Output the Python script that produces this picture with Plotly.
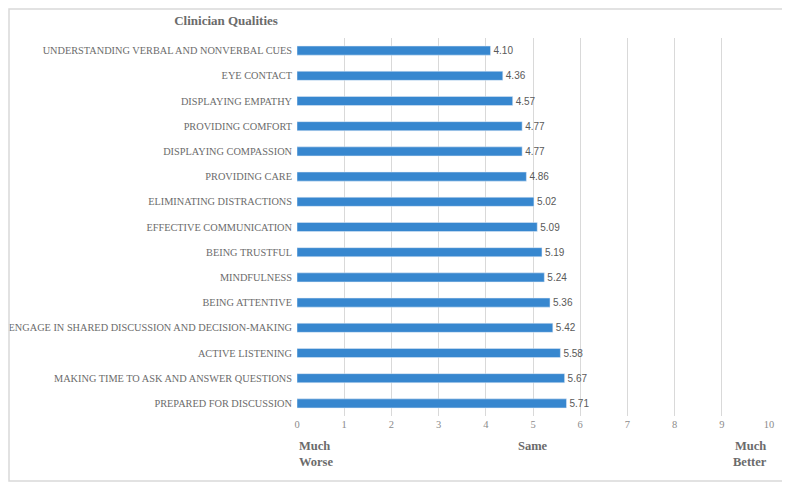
import plotly.graph_objects as go

qualities = [
    "UNDERSTANDING VERBAL AND NONVERBAL CUES",
    "EYE CONTACT",
    "DISPLAYING EMPATHY",
    "PROVIDING COMFORT",
    "DISPLAYING COMPASSION",
    "PROVIDING CARE",
    "ELIMINATING DISTRACTIONS",
    "EFFECTIVE COMMUNICATION",
    "BEING TRUSTFUL",
    "MINDFULNESS",
    "BEING ATTENTIVE",
    "ENGAGE IN SHARED DISCUSSION AND DECISION-MAKING",
    "ACTIVE LISTENING",
    "MAKING TIME TO ASK AND ANSWER QUESTIONS",
    "PREPARED FOR DISCUSSION",
]
scores = [4.10, 4.36, 4.57, 4.77, 4.77, 4.86, 5.02, 5.09, 5.19, 5.24, 5.36, 5.42, 5.58, 5.67, 5.71]
ticks = list(range(0, 11))

serif = "Liberation Serif, Times New Roman, serif"
gray = "#6b6b6b"

# page body has an 8px margin, so the figure is 8px smaller
W, H = 782, 476
L, T, PW, PH = 289, 30, 472, 378  # plot area in figure pixels

fig = go.Figure(go.Bar(
    x=scores, y=qualities, orientation="h",
    marker_color="#3787cf", width=0.36,
    text=[f"{v:.2f}" for v in scores], textposition="outside",
    constraintext="none",
    textfont=dict(family="Liberation Sans, Arial", size=10, color="#595959"),
    cliponaxis=False,
))

fig.update_layout(
    width=W, height=H,
    margin=dict(l=L, r=W - L - PW, t=T, b=H - T - PH, autoexpand=False),
    paper_bgcolor="white", plot_bgcolor="white",
    showlegend=False,
    title=dict(text="<b>Clinician Qualities</b>", x=218 / W, xanchor="center",
               y=1 - 12 / H, yanchor="middle",
               font=dict(family=serif, size=13, color=gray)),
)
fig.update_xaxes(range=[0, 10], tickvals=ticks, showgrid=True, gridcolor="#d9d9d9",
                 zeroline=False, showline=False, ticks="", automargin=False,
                 tickfont=dict(family=serif, size=10.5, color="#8c8c8c"))
fig.update_yaxes(categoryorder="array", categoryarray=qualities, autorange="reversed",
                 showgrid=False, ticks="", ticklabelstandoff=4, automargin=False,
                 tickfont=dict(family=serif, size=10.3, color=gray))

for txt, xv, anchor in [("Much<br>Worse", 0, "left"), ("Same", 5, "center"), ("Much<br>Better", 10, "right")]:
    fig.add_annotation(text=f"<b>{txt}</b>", x=xv, xref="x", y=0, yref="paper",
                       xanchor=anchor, yanchor="top", yshift=-21, align=anchor,
                       showarrow=False, font=dict(family=serif, size=12.5, color=gray))

# light frame around the chart
fig.add_shape(type="rect", xref="paper", yref="paper",
              x0=(1 - L) / PW, x1=(779 - L) / PW,
              y0=(T + PH - 473) / PH, y1=(T + PH - 1) / PH,
              line=dict(color="#d9d9d9", width=1.5))

fig.write_html("out.html")
